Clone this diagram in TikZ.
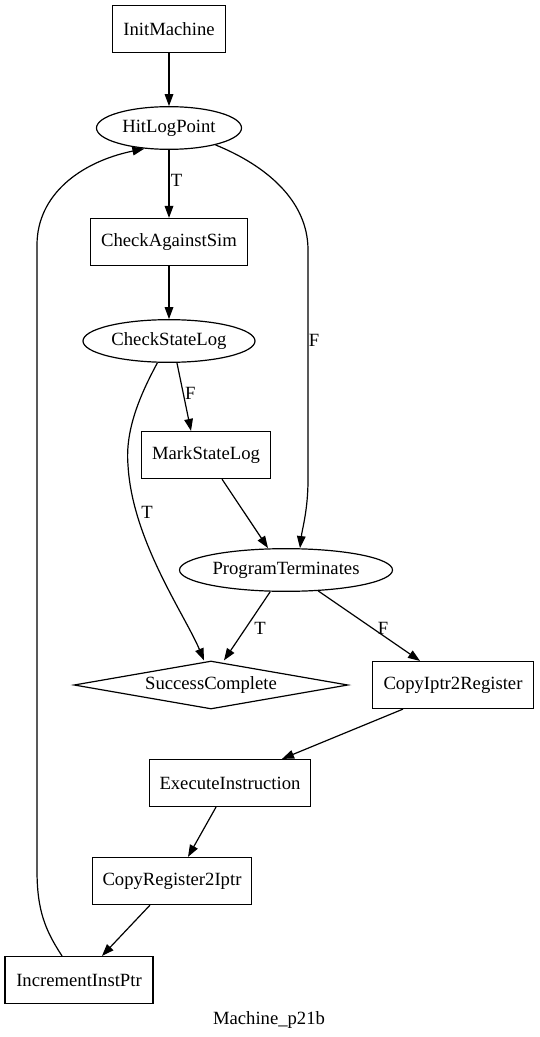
\documentclass[tikz,border=0pt]{standalone}
\usepackage{fontspec}
\setmainfont{Liberation Serif}
\usetikzlibrary{shapes.geometric,arrows.meta}
\begin{document}
\begin{tikzpicture}[x=0.75pt,y=-0.75pt,
  every node/.style={font=\fontsize{14}{16}\selectfont, inner sep=0pt},
  box/.style={draw, rectangle, line width=0.9pt, minimum height=35.25pt},
  ell/.style={draw, ellipse, line width=0.9pt, minimum height=32pt},
  dia/.style={draw, diamond, line width=0.9pt, shape aspect=5.7, minimum width=205.5pt, minimum height=36pt},
  edge/.style={draw, line width=0.9pt, -{Triangle[length=9pt,width=6.5pt]}},
  lbl/.style={font=\fontsize{14}{16}\selectfont}]
\useasboundingbox (0,0) rectangle (539,1037);

\node[box, minimum width=84.75pt] (init) at (169,29) {InitMachine};
\node[ell, minimum width=108.75pt] (hit) at (169,128) {HitLogPoint};
\node[box, minimum width=117.75pt] (cas) at (169,242) {CheckAgainstSim};
\node[ell, minimum width=129pt] (csl) at (169,341) {CheckStateLog};
\node[box, minimum width=96.75pt] (msl) at (206,455) {MarkStateLog};
\node[ell, minimum width=159.75pt] (pt) at (286,570) {ProgramTerminates};
\node[dia] (sc) at (211,685) {SuccessComplete};
\node[box, minimum width=120.75pt] (cir) at (453,685) {CopyIptr2Register};
\node[box, minimum width=120.75pt] (ei) at (230,783) {ExecuteInstruction};
\node[box, minimum width=119.25pt] (cri) at (172,881) {CopyRegister2Iptr};
\node[box, minimum width=111pt] (iip) at (79,980) {IncrementInstPtr};
\node (title) at (269,1020) {Machine\_p21b};

\draw[edge] (init) -- (hit);
\draw[edge] (hit) -- node[lbl, right=1pt, pos=0.45] {T} (cas);
\draw[edge] (hit.-20) .. controls (265,165) and (308,200) .. (308,250)
   -- (308,480) .. controls (308,510) and (302,530) .. (pt.north -| 300,0);
\node[lbl] (fhp) at (314,340) {F};
\draw[edge] (cas) -- (csl);
\draw[edge] (csl.-70) -- node[lbl, right=1pt, pos=0.45] {F} (msl.north -| 191,0);
\draw[edge] (csl.-118) .. controls (140,395) and (125,430) .. (128,465)
   .. controls (132,540) and (185,615) .. (sc.north -| 204,0);
\node[lbl] (tl) at (147,512) {T};
\draw[edge] (msl.south -| 222,0) -- (pt.north -| 268,0);
\draw[edge] (pt.-126) -- (sc.north -| 224,0);
\node[lbl] (tr) at (260,628) {T};
\draw[edge] (pt.-33) -- (cir.north -| 420,0);
\node[lbl] (fr) at (383,628) {F};
\draw[edge] (cir.south -| 403,0) -- (ei.north -| 282,0);
\draw[edge] (ei.south -| 216,0) -- (cri.north -| 188,0);
\draw[edge] (cri.south -| 150,0) -- (iip.north -| 102,0);
\draw[edge] (iip.north -| 62,0) .. controls (45,930) and (37,910) .. (37,870)
   -- (37,245) .. controls (37,195) and (80,162) .. (hit.-140);
\end{tikzpicture}
\end{document}
